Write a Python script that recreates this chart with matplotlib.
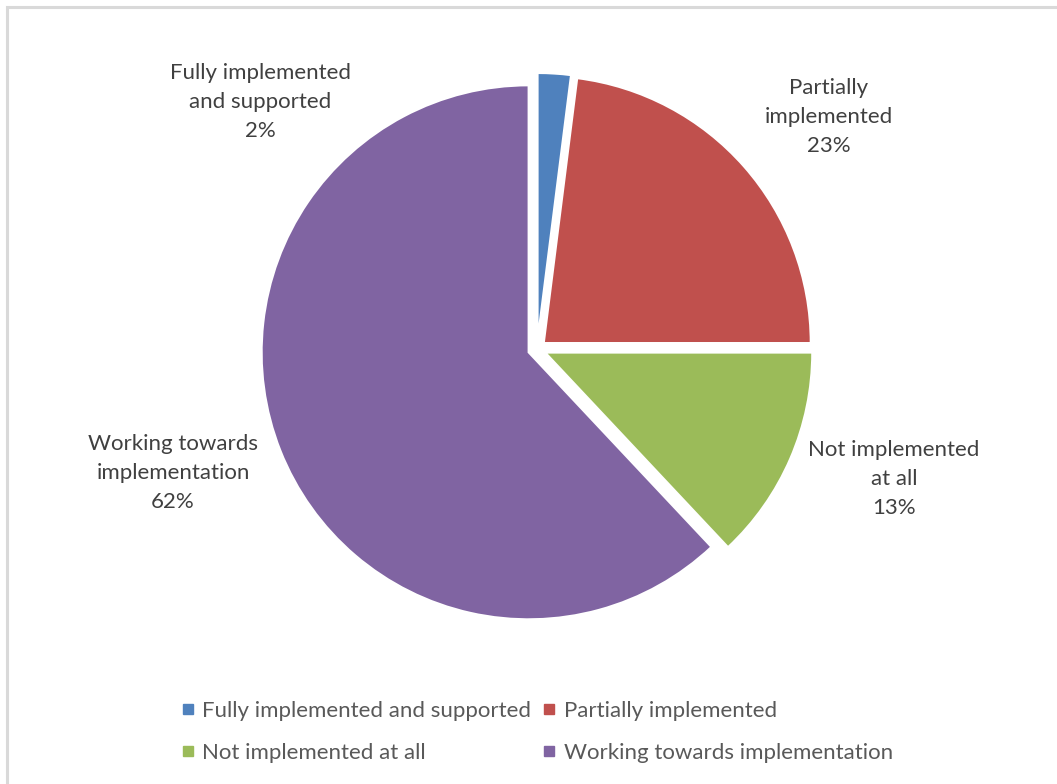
import matplotlib
matplotlib.use("Agg")
import matplotlib.pyplot as plt
from matplotlib.lines import Line2D
from matplotlib.patches import Rectangle

# implementation status shares
categories = ["Fully implemented and supported", "Partially implemented",
              "Not implemented at all", "Working towards implementation"]
shares = [2, 23, 13, 62]
# wrapped text for the slice labels
label_names = ["Fully implemented\nand supported", "Partially\nimplemented",
               "Not implemented\nat all", "Working towards\nimplementation"]

colors = ["#4F81BD", "#C0504D", "#9BBB59", "#8064A2"]
# where each slice label sits (pixel space of the figure)
label_pos = [(260, 682), (829, 667), (894, 305), (173, 311)]

plt.rcParams['font.family'] = ['Lato', 'DejaVu Sans']

W, H = 1057, 784
fig = plt.figure(figsize=(W / 100, H / 100), dpi=100)
ax = fig.add_axes([0, 0, 1, 1])

# explode is in data units here (pixels), not a fraction of the radius
wedges, _ = ax.pie(shares, colors=colors, startangle=90, counterclock=False,
                   center=(537, H - 349), radius=267,
                   explode=[9] * len(shares),
                   wedgeprops=dict(edgecolor='white', linewidth=1.5),
                   frame=True)
ax.set_xlim(0, W)
ax.set_ylim(0, H)
ax.set_aspect('equal')
ax.axis('off')

for name, val, (x, y) in zip(label_names, shares, label_pos):
    ax.text(x, y, "{}\n{}%".format(name, val), ha='center', va='center',
            fontsize=16, color='#404040', linespacing=1.55)

# outer chart border
fig.patches.append(Rectangle((6.5 / W, -0.01), 1.1, 1 - 6.5 / H + 0.01,
                             transform=fig.transFigure, fill=False,
                             edgecolor='#D9D9D9', linewidth=2.2))

# legend reads across rows, so feed it column by column
order = [0, 2, 1, 3]
handles = [Line2D([], [], marker='s', linestyle='none', markersize=7,
                  markerfacecolor=colors[i], markeredgecolor=colors[i])
           for i in order]
leg = fig.legend(handles, [categories[i] for i in order], loc='center', ncol=2,
                 bbox_to_anchor=(537 / W, 1 - 732 / H), frameon=False,
                 fontsize=16, labelcolor='#595959', handlelength=0.6,
                 handletextpad=0.35, columnspacing=0.5, labelspacing=1.0)

fig.savefig("out.png", dpi=100)
